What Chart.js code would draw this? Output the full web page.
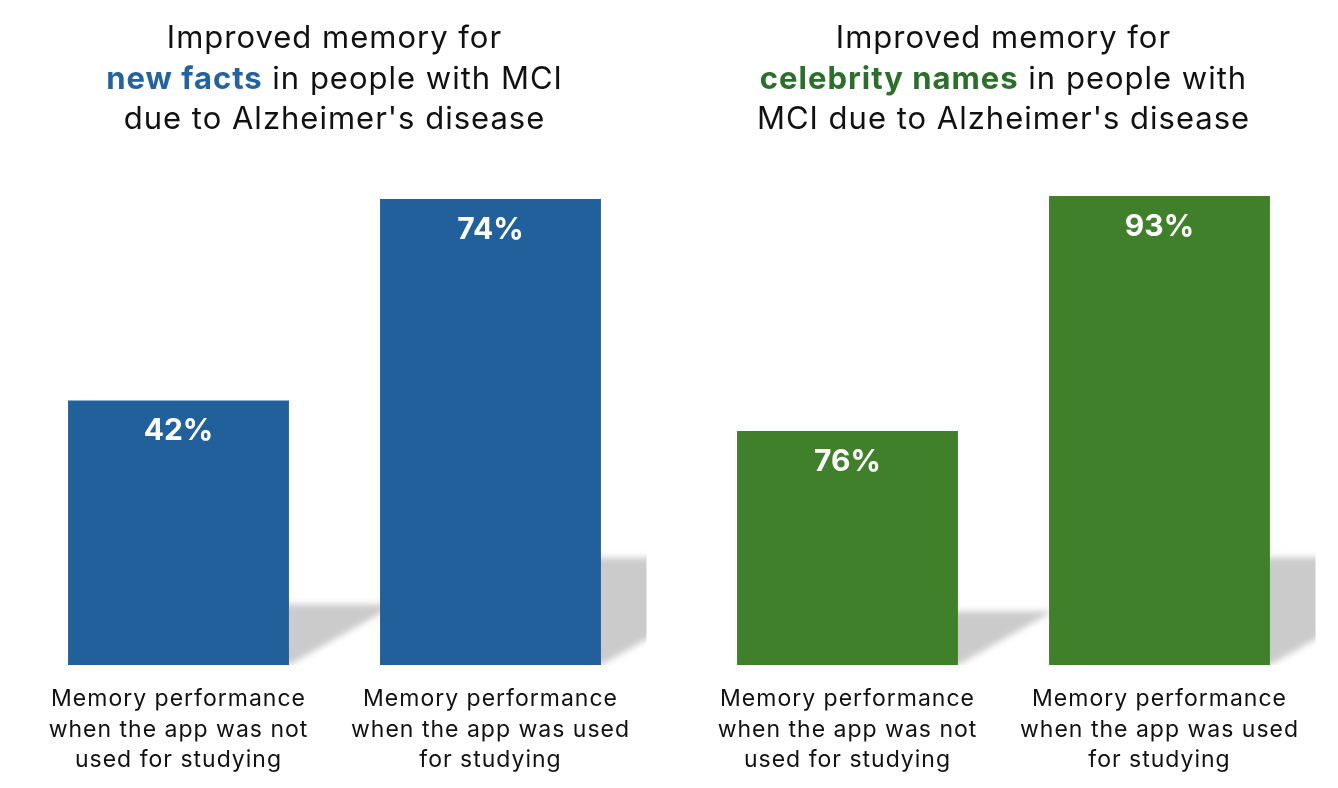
<!DOCTYPE html>
<html>
<head>
<meta charset="utf-8">
<script src="https://cdn.jsdelivr.net/npm/chart.js@4"></script>
<style>
  html, body { margin: 0; padding: 0; background: #fff; }
  .wrap { position: relative; width: 1338px; height: 788px; display: flex; }
  .panel { position: relative; width: 669px; height: 788px; }
  .title {
    position: absolute; left: 0; right: 0; top: 17px;
    text-align: center; font-family: Inter, sans-serif;
    font-size: 31px; line-height: 40.5px; letter-spacing: 1px; color: #111;
    z-index: 2;
  }
  .title b { font-weight: 700; letter-spacing: 1px; }
  .blue { color: #2463a0; }
  .green { color: #2b6f2b; }
  canvas { position: absolute; left: 0; top: 0; }
</style>
</head>
<body>
<div class="wrap">
  <div class="panel">
    <div class="title">Improved memory for<br><b class="blue">new facts</b> in people with MCI<br>due to Alzheimer's disease</div>
    <canvas id="factsChart" width="669" height="788"></canvas>
  </div>
  <div class="panel">
    <div class="title">Improved memory for<br><b class="green">celebrity names</b> in people with<br>MCI due to Alzheimer's disease</div>
    <canvas id="namesChart" width="669" height="788"></canvas>
  </div>
</div>
<script>
const categories = [
  ["Memory performance", "when the app was not", "used for studying"],
  ["Memory performance", "when the app was used", "for studying"],
];
const factsValues = [42, 74];
const namesValues = [76, 93];

// diagonal floor shadow behind each bar, clipped to the plot area
const barShadow = {
  id: "barShadow",
  beforeDraw(chart) {
    chart.ctx.letterSpacing = "1px";
  },
  beforeDatasetsDraw(chart) {
    const { ctx, chartArea } = chart;
    const bars = chart.getDatasetMeta(0).data;
    ctx.save();
    ctx.beginPath();
    ctx.rect(chartArea.left, chartArea.top, chartArea.right - chartArea.left, chartArea.bottom - chartArea.top);
    ctx.clip();
    ctx.filter = "blur(3px)";
    ctx.fillStyle = "#cbcbcb";
    bars.forEach((bar) => {
      const base = Math.min(bar.base, chartArea.bottom);
      const h = base - bar.y;
      const dy = h * 0.23;
      const dx = dy * 1.77;
      const l = bar.x - bar.width / 2;
      const r = bar.x + bar.width / 2;
      ctx.beginPath();
      ctx.moveTo(l, base);
      ctx.lineTo(r, base);
      ctx.lineTo(r + dx, base - dy);
      ctx.lineTo(l + dx, base - dy);
      ctx.closePath();
      ctx.fill();
    });
    ctx.restore();
  },
};

const valueLabels = {
  id: "valueLabels",
  afterDatasetsDraw(chart) {
    const { ctx } = chart;
    const ds = chart.data.datasets[0];
    ctx.save();
    ctx.letterSpacing = "0px";
    ctx.font = "bold 30px Inter, sans-serif";
    ctx.fillStyle = "#ffffff";
    ctx.textAlign = "center";
    ctx.textBaseline = "middle";
    chart.getDatasetMeta(0).data.forEach((bar, i) => {
      ctx.fillText(ds.data[i] + "%", bar.x, bar.y + 31);
    });
    ctx.restore();
  },
};

function makeChart(id, values, color, yMin, yMax) {
  return new Chart(document.getElementById(id), {
    type: "bar",
    data: {
      labels: categories,
      datasets: [
        {
          data: values,
          backgroundColor: color,
          borderWidth: 0,
          barPercentage: 0.708,
          categoryPercentage: 1,
        },
      ],
    },
    options: {
      responsive: false,
      animation: false,
      layout: { padding: { top: 180, left: 22.5, right: 22.5, bottom: 0 } },
      plugins: {
        legend: { display: false },
        tooltip: { enabled: false },
      },
      scales: {
        x: {
          grid: { display: false, drawTicks: false },
          border: { display: false },
          ticks: {
            color: "#111",
            padding: 19,
            font: { family: "Inter, sans-serif", size: 23, lineHeight: 1.326 },
          },
          afterFit(scale) {
            scale.height = 123;
          },
        },
        y: {
          display: false,
          min: yMin,
          max: yMax,
        },
      },
    },
    plugins: [barShadow, valueLabels],
  });
}

makeChart("factsChart", factsValues, "#21609b", 0, 77.0);
makeChart("namesChart", namesValues, "#40802b", 59.07, 94.16);
</script>
</body>
</html>
